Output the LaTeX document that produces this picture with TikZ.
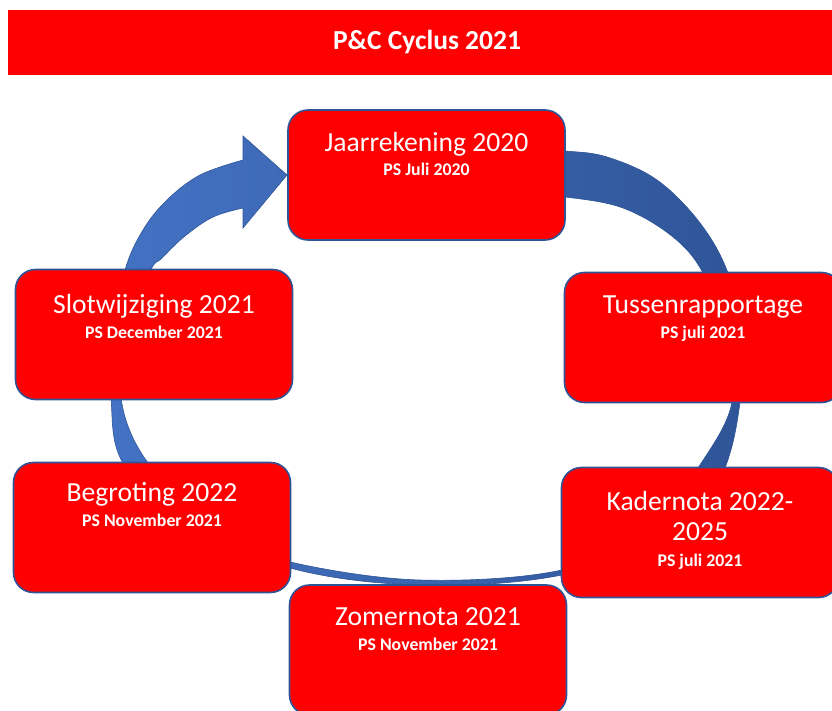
\documentclass[tikz,border=0pt]{standalone}
\usepackage{fontspec}
\setmainfont{Carlito}
\usepackage{tikz}
\usetikzlibrary{positioning, calc}
\definecolor{pcred}{HTML}{FF0000}
\definecolor{pcblue}{HTML}{2F5597}
\definecolor{ringlight}{HTML}{4472C4}
\definecolor{ringdark}{HTML}{2F5597}

\begin{document}
\begin{tikzpicture}[
  x=1pt, y=-1pt,
  banner/.style={
    rectangle,
    minimum width=838pt,
    minimum height=65pt,
    fill=pcred,
    text=white,
    font=\fontsize{27.5}{32}\selectfont\bfseries
  },
  stage/.style={
    rectangle,
    rounded corners=20pt,
    minimum width=277pt,
    minimum height=130pt,
    fill=pcred,
    draw=pcblue,
    line width=1.6pt
  },
  stagetitle/.style={
    anchor=base,
    inner sep=0pt,
    text=white,
    font=\fontsize{27.6}{30}\selectfont
  },
  stagesub/.style={
    anchor=base,
    inner sep=0pt,
    text=white,
    font=\fontsize{17.8}{20}\selectfont\bfseries
  },
  ring/.style={
    draw=ringdark,
    line width=0.6pt,
    left color=ringlight,
    right color=ringdark
  }
]
  \clip (0,0) rectangle (832,711);

  % Title bar
  \node[banner] (title) at (427,42.5) {P\&C Cyclus 2021};

  % Cycle arrow behind the boxes
  \path[ring]
    plot[smooth, tension=0.6] coordinates {(520,149) (565,151) (607,157) (657,180) (700,223) (728,273)
      (742,335) (740,402) (725,468) (690,532) (562,575) (420,585) (290,568) (185,522) (123,463)
      (111,398) (112,335) (125,270) (143,230) (167,200) (200,175) (243,160)}
    -- (243,136) -- (287,175) -- (243,228)
    -- plot[smooth, tension=0.6] coordinates {(243,208) (213,217) (185,236) (162,258) (150,272) (130,335)
      (121,398) (148,463) (220,535) (290,562) (420,580) (562,570) (650,530) (698,468) (732,402)
      (723,330) (703,273) (673,237) (623,208) (565,197) (520,195)}
    -- cycle;

  % Boxes
  \node[stage] (jaar) at (426.5,175) {};
  \node[stage] (tussen) at (703,337.5) {};
  \node[stage] (kader) at (700,532.5) {};
  \node[stage] (zomer) at (428,650) {};
  \node[stage] (begroting) at (152,527.5) {};
  \node[stage] (slot) at (154,334.5) {};

  % Box texts
  \node[stagetitle] (jaartitle) at ($(jaar.north)+(0,42)$) {Jaarrekening 2020};
  \node[stagesub] (jaarsub) at ($(jaar.north)+(0,66)$) {PS Juli 2020};

  \node[stagetitle] (tussentitle) at ($(tussen.north)+(0,42)$) {Tussenrapportage};
  \node[stagesub] (tussensub) at ($(tussen.north)+(0,67)$) {PS juli 2021};

  \node[stagetitle] (kadertitle) at ($(kader.north)+(0,44)$) {Kadernota 2022-};
  \node[stagetitle] (kadertitletwo) at ($(kader.north)+(0,74)$) {2025};
  \node[stagesub] (kadersub) at ($(kader.north)+(0,100)$) {PS juli 2021};

  \node[stagetitle] (zomertitle) at ($(zomer.north)+(0,41)$) {Zomernota 2021};
  \node[stagesub] (zomersub) at ($(zomer.north)+(0,66)$) {PS November 2021};

  \node[stagetitle] (begrotingtitle) at ($(begroting.north)+(0,40)$) {Begroting 2022};
  \node[stagesub] (begrotingsub) at ($(begroting.north)+(0,65)$) {PS November 2021};

  \node[stagetitle] (slottitle) at ($(slot.north)+(0,45)$) {Slotwijziging 2021};
  \node[stagesub] (slotsub) at ($(slot.north)+(0,70)$) {PS December 2021};
\end{tikzpicture}
\end{document}
